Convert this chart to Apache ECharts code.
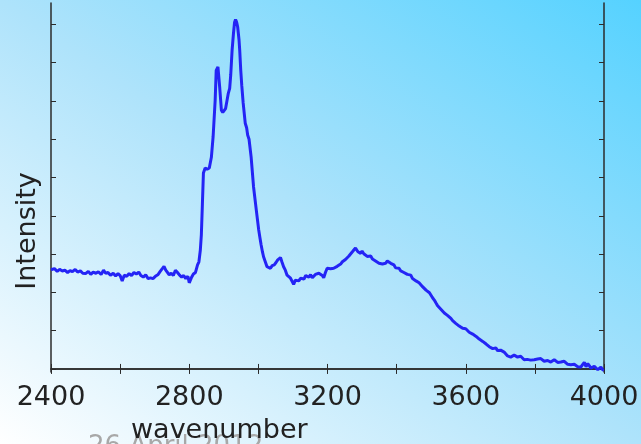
<!DOCTYPE html>
<html>
<head>
<meta charset="utf-8">
<script src="https://cdn.jsdelivr.net/npm/echarts@6/dist/echarts.min.js"></script>
<style>
  html, body { margin: 0; padding: 0; }
  #chart {
    width: 641px; height: 444px;
    background: linear-gradient(to top right, #ffffff 0%, #aee3fb 50%, #55d2ff 100%);
  }
</style>
</head>
<body>
<div id="chart"></div>
<script>
var xTickLabels = [2400, 2800, 3200, 3600, 4000];
var yTicks = [0, 1, 2, 3, 4, 5, 6, 7, 8, 9];

var wavenumber = [
  2400, 2410, 2418, 2425, 2433, 2440, 2448, 2455, 2462, 2470, 2477, 2485, 2492, 2500,
  2508, 2515, 2522, 2530, 2537, 2545, 2552, 2558, 2565, 2572, 2580, 2587, 2594, 2600,
  2606, 2612, 2619, 2626, 2633, 2640, 2647, 2654, 2660, 2667, 2674, 2681, 2688, 2695,
  2702, 2709, 2716, 2722, 2727, 2732, 2737, 2742, 2748, 2754, 2760, 2766, 2772, 2778,
  2784, 2790, 2796, 2800, 2806, 2812, 2818, 2824, 2828, 2832, 2835, 2838, 2841, 2846,
  2852, 2858, 2864, 2869, 2875, 2878, 2883, 2888, 2893, 2897, 2901, 2905, 2909, 2913,
  2917, 2920, 2924, 2928, 2931, 2934, 2937, 2940, 2944, 2946, 2949, 2952, 2956, 2962,
  2966, 2969, 2973, 2975, 2979, 2986, 2994, 3001, 3005, 3008, 3012, 3015, 3020, 3025,
  3030, 3035, 3040, 3046, 3051, 3056, 3060, 3064, 3068, 3073, 3078, 3083, 3088, 3093,
  3098, 3102, 3107, 3112, 3117, 3122, 3127, 3132, 3137, 3141, 3146, 3151, 3156, 3160,
  3165, 3170, 3175, 3180, 3185, 3189, 3194, 3199, 3204, 3209, 3214, 3218, 3223, 3228,
  3233, 3238, 3243, 3248, 3252, 3257, 3262, 3267, 3272, 3277, 3281, 3284, 3288, 3292,
  3296, 3300, 3305, 3310, 3315, 3320, 3325, 3330, 3334, 3339, 3344, 3349, 3354, 3359,
  3363, 3368, 3373, 3378, 3383, 3388, 3392, 3397, 3402, 3407, 3412, 3416, 3421, 3426,
  3431, 3436, 3441, 3446, 3451, 3456, 3460, 3465, 3470, 3475, 3480, 3485, 3490, 3495,
  3499, 3504, 3509, 3514, 3518, 3523, 3528, 3533, 3538, 3543, 3547, 3552, 3557, 3562,
  3567, 3571, 3576, 3581, 3586, 3591, 3596, 3600, 3605, 3610, 3615, 3620, 3625, 3630,
  3634, 3639, 3644, 3649, 3654, 3659, 3663, 3668, 3673, 3678, 3682, 3687, 3692, 3697,
  3701, 3706, 3711, 3716, 3721, 3726, 3730, 3735, 3740, 3745, 3750, 3754, 3759, 3764,
  3769, 3774, 3778, 3783, 3788, 3793, 3798, 3803, 3808, 3812, 3817, 3822, 3827, 3832,
  3837, 3841, 3846, 3851, 3856, 3861, 3866, 3870, 3875, 3880, 3885, 3890, 3895, 3899,
  3904, 3909, 3914, 3919, 3924, 3928, 3933, 3938, 3943, 3948, 3953, 3958, 3962, 3967,
  3972, 3977, 3982, 3986, 3991, 3996, 4000
];

var intensity = [
  2.59, 2.62, 2.55, 2.60, 2.56, 2.58, 2.52, 2.57, 2.54, 2.60, 2.53, 2.56, 2.50, 2.49,
  2.55, 2.47, 2.53, 2.50, 2.54, 2.47, 2.58, 2.50, 2.52, 2.45, 2.50, 2.43, 2.49, 2.44,
  2.30, 2.45, 2.42, 2.49, 2.44, 2.52, 2.48, 2.53, 2.44, 2.40, 2.46, 2.36, 2.38, 2.36,
  2.42, 2.46, 2.55, 2.62, 2.68, 2.58, 2.53, 2.46, 2.50, 2.44, 2.58, 2.52, 2.45, 2.40,
  2.44, 2.36, 2.42, 2.25, 2.38, 2.48, 2.52, 2.72, 2.80, 3.10, 3.50, 4.30, 5.12, 5.25,
  5.22, 5.25, 5.53, 6.06, 7.02, 7.80, 7.89, 7.37, 6.76, 6.70, 6.72, 6.80, 7.00, 7.20,
  7.33, 7.68, 8.33, 8.77, 9.05, 9.13, 9.06, 8.94, 8.60, 8.33, 7.80, 7.40, 6.95, 6.42,
  6.30, 6.11, 6.00, 5.98, 5.54, 4.76, 4.15, 3.63, 3.40, 3.24, 3.05, 2.93, 2.80, 2.67,
  2.64, 2.63, 2.70, 2.72, 2.78, 2.85, 2.90, 2.91, 2.80, 2.67, 2.58, 2.45, 2.40, 2.37,
  2.28, 2.21, 2.32, 2.36, 2.30, 2.37, 2.40, 2.35, 2.44, 2.45, 2.40, 2.46, 2.38, 2.41,
  2.47, 2.44, 2.50, 2.50, 2.44, 2.38, 2.52, 2.63, 2.58, 2.62, 2.57, 2.63, 2.60, 2.68,
  2.67, 2.74, 2.80, 2.76, 2.86, 2.89, 2.95, 2.92, 3.06, 3.10, 3.16, 3.15, 3.06, 3.10,
  3.02, 3.08, 3.01, 3.02, 2.94, 2.89, 2.95, 2.87, 2.89, 2.82, 2.80, 2.76, 2.80, 2.74,
  2.77, 2.76, 2.82, 2.85, 2.76, 2.74, 2.72, 2.64, 2.68, 2.63, 2.56, 2.60, 2.52, 2.54,
  2.47, 2.50, 2.45, 2.36, 2.40, 2.30, 2.28, 2.25, 2.23, 2.15, 2.12, 2.06, 2.04, 1.99,
  1.97, 1.86, 1.80, 1.72, 1.66, 1.62, 1.56, 1.52, 1.46, 1.43, 1.40, 1.36, 1.32, 1.26,
  1.24, 1.19, 1.18, 1.12, 1.10, 1.06, 1.08, 1.05, 1.02, 0.96, 0.93, 0.91, 0.86, 0.85,
  0.83, 0.78, 0.75, 0.72, 0.68, 0.65, 0.62, 0.58, 0.57, 0.53, 0.52, 0.55, 0.48, 0.52,
  0.49, 0.48, 0.44, 0.40, 0.34, 0.36, 0.31, 0.33, 0.36, 0.33, 0.31, 0.34, 0.33, 0.29,
  0.24, 0.28, 0.25, 0.22, 0.23, 0.27, 0.24, 0.29, 0.26, 0.22, 0.27, 0.24, 0.20, 0.18,
  0.22, 0.20, 0.18, 0.20, 0.24, 0.20, 0.17, 0.21, 0.18, 0.15, 0.20, 0.15, 0.12, 0.16,
  0.11, 0.08, 0.12, 0.09, 0.06, 0.10, 0.05, 0.10, 0.17, 0.06, 0.14, 0.08, 0.02, 0.01,
  0.07, 0.03, -0.02, 0.01, 0.05, -0.02, -0.03
];

var dom = document.getElementById('chart');
var myChart = echarts.init(dom);

var font = 'DejaVu Sans';
var axisColor = '#2b2b2b';

var data = [];
for (var i = 0; i < wavenumber.length; i++) {
    data.push([wavenumber[i], intensity[i]]);
}

var option = {
    backgroundColor: 'transparent',
    animation: false,
    grid: {
        left: 51,
        right: 37,
        top: 3,
        bottom: 72,
        outerBoundsMode: 'none'
    },
    xAxis: [
        {
            type: 'value',
            min: 2400,
            max: 4000,
            interval: 200,
            position: 'bottom',
            axisLine: { lineStyle: { color: axisColor, width: 1.5 } },
            axisTick: { inside: true, length: 5, lineStyle: { color: axisColor } },
            axisLabel: {
                customValues: xTickLabels,
                formatter: function (v) { return String(v); },
                margin: 12,
                fontFamily: font,
                fontSize: 27,
                color: '#222'
            },
            splitLine: { show: false }
        },
        {
            type: 'value',
            min: 2400,
            max: 4000,
            interval: 200,
            position: 'top',
            axisLine: { lineStyle: { color: axisColor, width: 1.5 } },
            axisTick: { inside: true, length: 5, lineStyle: { color: axisColor } },
            axisLabel: { show: false },
            splitLine: { show: false }
        }
    ],
    yAxis: [
        {
            type: 'value',
            min: -0.08,
            max: 9.56,
            position: 'left',
            axisLine: { show: true, lineStyle: { color: axisColor, width: 1.5 } },
            axisTick: { show: true, inside: true, length: 5, customValues: yTicks, lineStyle: { color: axisColor } },
            axisLabel: { show: false },
            splitLine: { show: false }
        },
        {
            type: 'value',
            min: -0.08,
            max: 9.56,
            position: 'right',
            axisLine: { show: true, lineStyle: { color: axisColor, width: 1.5 } },
            axisTick: { show: true, inside: true, length: 5, customValues: yTicks, lineStyle: { color: axisColor } },
            axisLabel: { show: false },
            splitLine: { show: false }
        }
    ],
    graphic: [
        {
            type: 'text',
            left: 88,
            top: 434,
            z: 1,
            style: {
                text: '26 April 2012',
                font: '26px "DejaVu Sans"',
                fill: '#a8a8a8'
            }
        },
        {
            type: 'text',
            left: 131,
            top: 417,
            z: 5,
            style: {
                text: 'wavenumber',
                font: '27px "DejaVu Sans"',
                fill: '#222'
            }
        },
        {
            type: 'text',
            x: 28,
            y: 231,
            rotation: Math.PI / 2,
            style: {
                text: 'Intensity',
                font: '27px "DejaVu Sans"',
                fill: '#222',
                align: 'center',
                verticalAlign: 'middle'
            }
        }
    ],
    series: [
        {
            name: 'Intensity',
            type: 'line',
            data: data,
            showSymbol: false,
            symbol: 'none',
            clip: true,
            lineStyle: { color: '#2424f5', width: 3 }
        }
    ]
};

if (option && typeof option === "object") {
    myChart.setOption(option, true);
}
</script>
</body>
</html>
